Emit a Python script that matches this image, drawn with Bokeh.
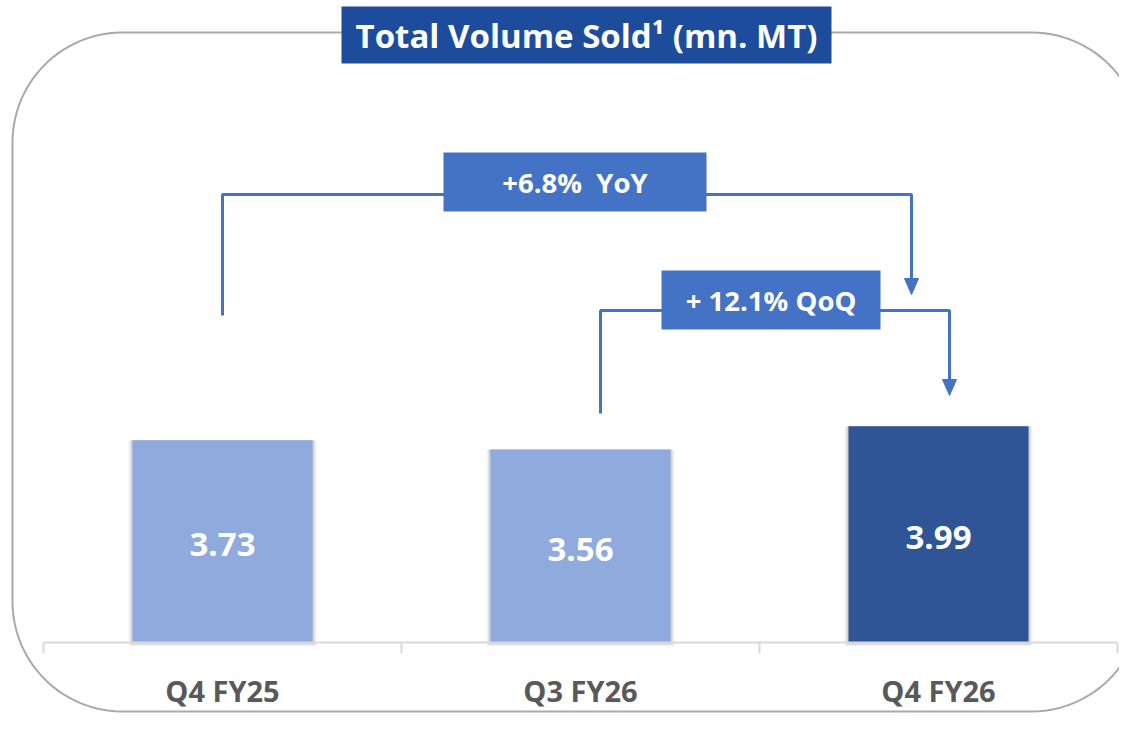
import numpy as np
from bokeh.plotting import figure
from bokeh.models import Range1d, ColumnDataSource
from bokeh.embed import file_html
from bokeh.resources import INLINE
from bokeh.core.properties import value

# ---------------- data ----------------
categories = ["Q4 FY25", "Q3 FY26", "Q4 FY26"]
volumes = [3.73, 3.56, 3.99]
bar_colors = ["#8FAADC", "#8FAADC", "#2F5597"]
title_text = "Total Volume Sold\u00b9 (mn. MT)"
yoy_label = "+6.8%\u00a0 YoY"
qoq_label = "+ 12.1% QoQ"

# ---------------- layout (pixels in the figure) ----------------
W, H = 1119, 713
X0, DX = 222, 358      # pixel x of first category centre, pixels per category
Y0, KY = 642, 54.2     # pixel y of baseline, pixels per mn. MT


def ux(px):
    return (px - X0) / DX


def uy(py):
    return (Y0 - py) / KY


FONT = value("Open Sans")
BLUE = "#4472C4"

p = figure(width=W, height=H,
           x_range=Range1d(ux(0), ux(W)), y_range=Range1d(uy(H), uy(0)),
           output_backend="svg", toolbar_location=None, min_border=0,
           x_axis_location=None, y_axis_location=None)
p.grid.visible = False
p.outline_line_color = None
p.background_fill_color = "white"
p.border_fill_color = "white"

# ---------------- rounded frame ----------------
L, R, T, B, RAD = 12, 1141, 32, 711, 110


def arc(cx, cy, a0, a1):
    t = np.linspace(a0, a1, 24)
    return list(cx + RAD * np.cos(t)), list(cy + RAD * np.sin(t))


xs, ys = [], []
for (cx, cy, a0, a1) in [(L + RAD, T + RAD, np.pi, 1.5 * np.pi),
                         (R - RAD, T + RAD, 1.5 * np.pi, 2 * np.pi),
                         (R - RAD, B - RAD, 0, 0.5 * np.pi),
                         (L + RAD, B - RAD, 0.5 * np.pi, np.pi)]:
    ax, ay = arc(cx, cy, a0, a1)
    xs += ax
    ys += ay
xs.append(xs[0])
ys.append(ys[0])
p.line([ux(v) for v in xs], [uy(v) for v in ys], line_color="#A9A9A9", line_width=2)

# ---------------- title ----------------
p.quad(left=ux(341), right=ux(831), top=uy(6), bottom=uy(63),
       fill_color="#1E4C9C", line_color=None)
p.text(x=[ux(586)], y=[uy(35)], text=[title_text], text_font=FONT,
       text_font_style="bold", text_font_size="33px", text_color="white",
       text_align="center", text_baseline="middle")

# ---------------- bars ----------------
idx = list(range(len(categories)))
src = ColumnDataSource(dict(x=idx, top=volumes, color=bar_colors,
                            label=[f"{v:.2f}" for v in volumes],
                            ly=[v / 2 - 3 / KY for v in volumes],
                            cat=categories))
bw = 180 / DX
for grow, a in [(8, 0.05), (5, 0.07), (2, 0.10)]:
    p.vbar(x="x", top="top", bottom=-grow / 2 / KY, width=bw + grow / DX, source=src,
           fill_color="#000000", fill_alpha=a, line_color=None)
p.vbar(x="x", top="top", bottom=0, width=bw, source=src,
       fill_color="color", line_color=None)
p.text(x="x", y="ly", text="label", source=src, text_font=FONT,
       text_font_style="bold", text_font_size="33px", text_color="white",
       text_align="center", text_baseline="middle")

# ---------------- baseline & category ticks ----------------
edges = [i - 0.5 for i in range(len(categories) + 1)]
p.segment(x0=[edges[0]], y0=[0], x1=[edges[-1]], y1=[0], line_color="#D9D9D9", line_width=2)
p.segment(x0=edges, y0=[0] * len(edges), x1=edges, y1=[uy(653)] * len(edges),
          line_color="#D9D9D9", line_width=2)
p.text(x="x", y=uy(690), text="cat", source=src, text_font=FONT,
       text_font_style="bold", text_font_size="29px", text_color="#595959",
       text_align="center", text_baseline="middle")

# ---------------- growth brackets ----------------
def bracket(x_left, y_left, y_top, x_right, y_tip):
    p.line([ux(x_left), ux(x_left), ux(x_right), ux(x_right)],
           [uy(y_left), uy(y_top), uy(y_top), uy(y_tip - 14)],
           line_color=BLUE, line_width=3)
    p.patch([ux(x_right - 7), ux(x_right + 7), ux(x_right)],
            [uy(y_tip - 16), uy(y_tip - 16), uy(y_tip)],
            fill_color=BLUE, line_color=BLUE, line_width=1)


def tag(l, r, t, b, text):
    p.quad(left=ux(l), right=ux(r), top=uy(t), bottom=uy(b),
           fill_color=BLUE, line_color=None)
    p.text(x=[ux((l + r) / 2)], y=[uy((t + b) / 2)], text=[text], text_font=FONT,
           text_font_style="bold", text_font_size="27.5px", text_color="white",
           text_align="center", text_baseline="middle")


bracket(222, 315, 194, 911, 294)
tag(443, 706, 152, 211, yoy_label)
bracket(600, 413, 310, 949, 395)
tag(661, 880, 270, 329, qoq_label)

open("out.html", "w").write(file_html(p, INLINE))
